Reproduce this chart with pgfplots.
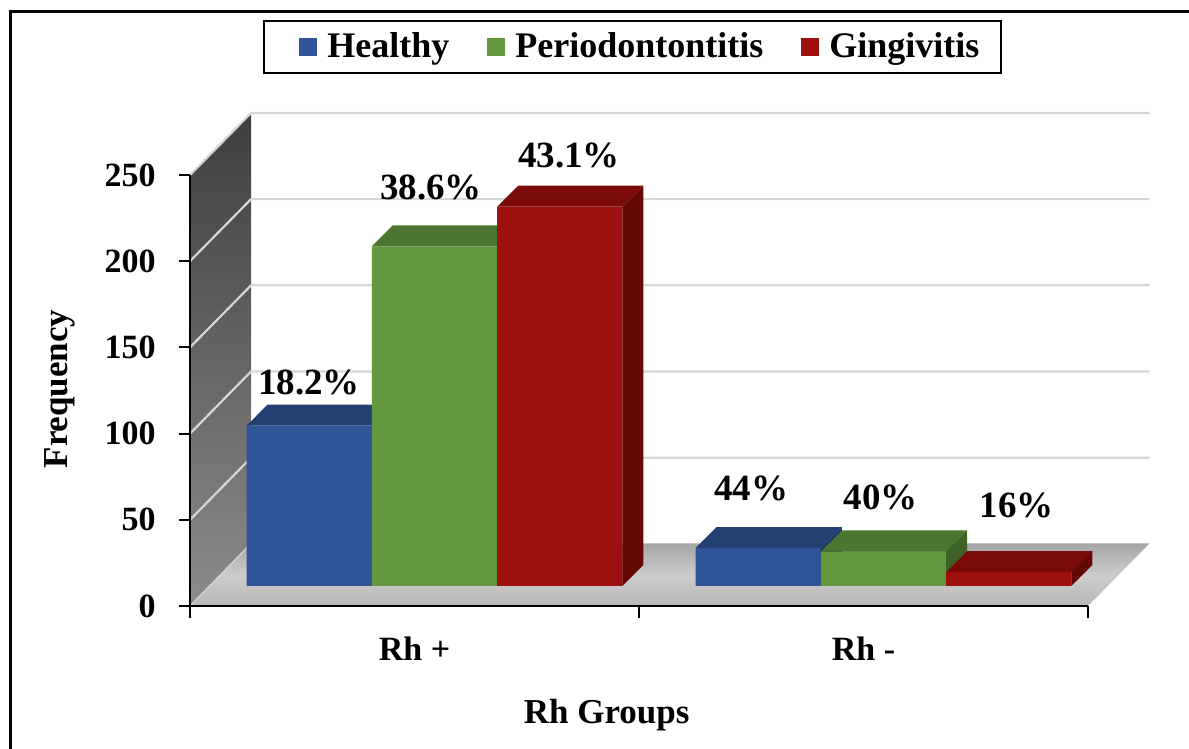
\documentclass[border=0pt]{standalone}
\usepackage{fontspec}
\setmainfont{Liberation Serif}
\usepackage{pgfplots}
\usepackage{pgfplotstable}
\pgfplotsset{compat=1.18}

\definecolor{hfront}{RGB}{47,85,151}
\definecolor{htop}{RGB}{36,64,115}
\definecolor{hside}{RGB}{30,54,98}
\definecolor{pfront}{RGB}{99,152,62}
\definecolor{ptop}{RGB}{75,118,47}
\definecolor{pside}{RGB}{62,98,38}
\definecolor{gfront}{RGB}{158,16,14}
\definecolor{gtop}{RGB}{122,11,8}
\definecolor{gside}{RGB}{100,8,5}
\definecolor{gridc}{RGB}{214,214,214}
\definecolor{wallTop}{RGB}{62,62,62}
\definecolor{wallBot}{RGB}{140,140,140}
\definecolor{floorBack}{RGB}{166,166,166}
\definecolor{floorMid}{RGB}{204,204,204}
\definecolor{floorFront}{RGB}{184,184,184}

% frequencies (Rh+ at 0.5, Rh- at 1.5)
\pgfplotstableread{
cat val
0.5 93
1.5 22
}\healthy
\pgfplotstableread{
cat val
0.5 197
1.5 20
}\perio
\pgfplotstableread{
cat val
0.5 220
1.5 8
}\ging

\begin{document}
\begin{tikzpicture}
\useasboundingbox (0,0) rectangle (594.5pt,374.5pt);
\draw[line width=1.5pt] (5pt,-5pt) -- (5pt,368.5pt) -- (600pt,368.5pt);

% ---------- front plane: walls, floor, axes ----------
\begin{axis}[
  at={(95pt,71.5pt)}, anchor=south west,
  scale only axis, width=449pt, height=215.5pt,
  xmin=0, xmax=2, ymin=0, ymax=250,
  clip=false, axis on top=true,
  axis x line=bottom, axis y line=left,
  axis line style={-, line width=1pt, black},
  xtick={0.5,1.5}, xticklabels={Rh +, Rh -},
  major x tick style={draw=none},
  minor xtick={0,1,2},
  minor tick length=6pt,
  ytick={0,50,100,150,200,250},
  major tick length=5.5pt,
  tick align=outside,
  tick style={black, line width=1pt},
  /pgf/number format/assume math mode=true,
  tick label style={font=\fontsize{17}{17}\selectfont\bfseries},
  yticklabel style={anchor=east, inner sep=0pt, xshift=-11.5pt},
  xticklabel style={anchor=center, inner sep=0pt, yshift=-16pt},
  xlabel={Rh Groups},
  xlabel style={at={(axis description cs:0.464,-0.254)}, anchor=center, font=\fontsize{17.5}{17.5}\selectfont\bfseries},
  ylabel={Frequency},
  ylabel style={at={(axis description cs:-0.1453,0.5035)}, anchor=center, font=\fontsize{17.5}{17.5}\selectfont\bfseries},
]
\addplot[draw=none, top color=wallTop, bottom color=wallBot] coordinates {(0,0) (0,250) (0.136,286) (0.136,36)} -- cycle;
\addplot[draw=none, top color=floorBack, bottom color=floorFront, middle color=floorMid] coordinates {(0,0) (2,0) (2.137,36.3) (0.136,36.3)} -- cycle;
\addplot[draw=gridc, line width=0.6pt] coordinates {(0,0) (0.136,36.3)};
\addplot[gridc, line width=1.1pt] coordinates {(0,50) (0.136,86) (2.137,86)};
\addplot[gridc, line width=1.1pt] coordinates {(0,100) (0.136,136) (2.137,136)};
\addplot[gridc, line width=1.1pt] coordinates {(0,150) (0.136,186) (2.137,186)};
\addplot[gridc, line width=1.1pt] coordinates {(0,200) (0.136,236) (2.137,236)};
\addplot[gridc, line width=1.1pt] coordinates {(0,250) (0.136,286) (2.137,286)};
\end{axis}

% ---------- bar plane ----------
\begin{axis}[
  at={(105pt,81.5pt)}, anchor=south west,
  scale only axis, width=449pt, height=215.5pt,
  xmin=0, xmax=2, ymin=0, ymax=250,
  clip=false, hide axis,
  legend columns=3,
  legend cell align=left,
  legend style={at={(0.471,1.2506)}, anchor=center, draw=black, line width=1pt,
    font=\fontsize{18}{18}\selectfont\bfseries,
    inner xsep=9pt, inner ysep=4pt,
    /tikz/every even column/.append style={column sep=17pt}},
]
% Healthy
\addplot[ybar, bar width=0.279, bar shift=-0.279, fill=hfront, draw=none,
  legend image code/.code={\path[draw=none,fill=none] (-8.5pt,0) rectangle (12pt,0.1pt); \fill[hfront] (0pt,-4.5pt) rectangle (9pt,4.5pt);}]
  table[x=cat, y=val] {\healthy};
\addlegendentry{Healthy}
\addplot[fill=htop, draw=none, forget plot] coordinates {(0.0815,93) (0.3605,93) (0.4073,105.2) (0.1283,105.2)} -- cycle;
\addplot[fill=hside, draw=none, forget plot] coordinates {(0.3605,0) (0.3605,93) (0.4073,105.2) (0.4073,12.2)} -- cycle;
\addplot[fill=htop, draw=none, forget plot] coordinates {(1.0815,22) (1.3605,22) (1.4073,34.2) (1.1283,34.2)} -- cycle;
\addplot[fill=hside, draw=none, forget plot] coordinates {(1.3605,0) (1.3605,22) (1.4073,34.2) (1.4073,12.2)} -- cycle;
% Periodontitis
\addplot[ybar, bar width=0.279, bar shift=0, fill=pfront, draw=none,
  legend image code/.code={\path[draw=none,fill=none] (0pt,0) rectangle (12pt,0.1pt); \fill[pfront] (0pt,-4.5pt) rectangle (9pt,4.5pt);}]
  table[x=cat, y=val] {\perio};
\addlegendentry{Periodontontitis}
\addplot[fill=ptop, draw=none, forget plot] coordinates {(0.3605,197) (0.6395,197) (0.6863,209.2) (0.4073,209.2)} -- cycle;
\addplot[fill=pside, draw=none, forget plot] coordinates {(0.6395,0) (0.6395,197) (0.6863,209.2) (0.6863,12.2)} -- cycle;
\addplot[fill=ptop, draw=none, forget plot] coordinates {(1.3605,20) (1.6395,20) (1.6863,32.2) (1.4073,32.2)} -- cycle;
\addplot[fill=pside, draw=none, forget plot] coordinates {(1.6395,0) (1.6395,20) (1.6863,32.2) (1.6863,12.2)} -- cycle;
% Gingivitis
\addplot[ybar, bar width=0.279, bar shift=0.279, fill=gfront, draw=none,
  legend image code/.code={\path[draw=none,fill=none] (0pt,0) rectangle (12pt,0.1pt); \fill[gfront] (0pt,-4.5pt) rectangle (9pt,4.5pt);}]
  table[x=cat, y=val] {\ging};
\addlegendentry{Gingivitis}
\addplot[fill=gtop, draw=none, forget plot] coordinates {(0.6395,220) (0.9185,220) (0.9653,232.2) (0.6863,232.2)} -- cycle;
\addplot[fill=gside, draw=none, forget plot] coordinates {(0.9185,0) (0.9185,220) (0.9653,232.2) (0.9653,12.2)} -- cycle;
\addplot[fill=gtop, draw=none, forget plot] coordinates {(1.6395,8) (1.9185,8) (1.9653,20.2) (1.6863,20.2)} -- cycle;
\addplot[fill=gside, draw=none, forget plot] coordinates {(1.9185,0) (1.9185,8) (1.9653,20.2) (1.9653,12.2)} -- cycle;

% percentage labels
\begin{scope}[every node/.style={font=\fontsize{18.5}{18.5}\selectfont\bfseries, inner sep=0pt}]
\node at (axis cs:0.2205,118.3) {18.2\%};
\node at (axis cs:0.4922,230.9) {38.6\%};
\node at (axis cs:0.7996,250.0) {43.1\%};
\node at (axis cs:1.2049,56.8) {44\%};
\node at (axis cs:1.4944,51.6) {40\%};
\node at (axis cs:1.7973,47.0) {16\%};
\end{scope}
\end{axis}
\end{tikzpicture}
\end{document}
